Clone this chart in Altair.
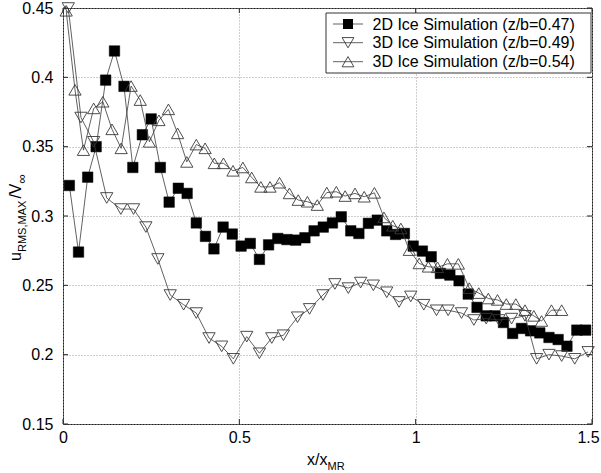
import altair as alt
import pandas as pd

series_names = ["2D Ice Simulation (z/b=0.47)",
                "3D Ice Simulation (z/b=0.49)",
                "3D Ice Simulation (z/b=0.54)"]

sq_x = [0.018, 0.044, 0.07, 0.094, 0.121, 0.146, 0.173, 0.198, 0.225, 0.25, 0.276, 0.301, 0.327, 0.352,
        0.378, 0.404, 0.428, 0.454, 0.48, 0.505, 0.531, 0.557, 0.583, 0.609, 0.635, 0.66, 0.686, 0.712,
        0.738, 0.764, 0.789, 0.816, 0.839, 0.866, 0.891, 0.918, 0.943, 0.968, 0.993, 1.019, 1.044, 1.07,
        1.097, 1.123, 1.149, 1.174, 1.2, 1.225, 1.249, 1.275, 1.30, 1.326, 1.352, 1.378, 1.404, 1.429,
        1.457, 1.482]
sq_y = [0.322, 0.274, 0.328, 0.35, 0.398, 0.419, 0.3935, 0.335, 0.3586, 0.37, 0.335, 0.31, 0.32, 0.3163,
        0.295, 0.2853, 0.2763, 0.292, 0.287, 0.2783, 0.2802, 0.2687, 0.2792, 0.2838, 0.283, 0.2826, 0.2843,
        0.2893, 0.292, 0.295, 0.2994, 0.2893, 0.2874, 0.2947, 0.297, 0.2893, 0.2867, 0.2874, 0.2783, 0.2747,
        0.2706, 0.2586, 0.2574, 0.2533, 0.2437, 0.2341, 0.228, 0.228, 0.2232, 0.2153, 0.2189, 0.2172, 0.2157,
        0.2124, 0.2109, 0.2061, 0.2177, 0.2177]

dn_x = [0.015, 0.051, 0.087, 0.124, 0.164, 0.2, 0.235, 0.269, 0.304, 0.342, 0.378, 0.414, 0.45, 0.483,
        0.521, 0.557, 0.592, 0.625, 0.665, 0.699, 0.737, 0.771, 0.809, 0.844, 0.88, 0.918, 0.953, 0.986,
        1.023, 1.059, 1.092, 1.13, 1.165, 1.2, 1.236, 1.272, 1.31, 1.343, 1.378, 1.414, 1.451, 1.489]
dn_y = [0.45, 0.371, 0.3535, 0.313, 0.305, 0.305, 0.292, 0.269, 0.243, 0.236, 0.23, 0.212, 0.206, 0.197,
        0.213, 0.201, 0.212, 0.214, 0.227, 0.233, 0.243, 0.251, 0.248, 0.252, 0.25, 0.245, 0.238, 0.242,
        0.236, 0.232, 0.232, 0.23, 0.225, 0.226, 0.225, 0.226, 0.228, 0.197, 0.2, 0.199, 0.197, 0.202]

up_x = [0.009, 0.034, 0.058, 0.087, 0.113, 0.139, 0.165, 0.193, 0.219, 0.245, 0.272, 0.299, 0.325, 0.351,
        0.378, 0.403, 0.429, 0.455, 0.482, 0.51, 0.535, 0.561, 0.587, 0.614, 0.642, 0.667, 0.693, 0.721,
        0.748, 0.775, 0.8, 0.828, 0.854, 0.883, 0.91, 0.935, 0.958, 0.982, 1.01, 1.036, 1.062, 1.09,
        1.121, 1.152, 1.179, 1.206, 1.232, 1.257, 1.284, 1.31, 1.335, 1.357, 1.385, 1.414]
up_y = [0.448, 0.391, 0.3475, 0.3776, 0.3824, 0.3625, 0.3488, 0.3937, 0.3836, 0.3535, 0.369, 0.3769, 0.3596,
        0.339, 0.3515, 0.3488, 0.338, 0.338, 0.3326, 0.335, 0.3278, 0.321, 0.321, 0.324, 0.3163, 0.3115,
        0.3103, 0.3079, 0.3169, 0.3175, 0.3144, 0.3163, 0.3139, 0.3167, 0.299, 0.293, 0.291, 0.2754, 0.2658,
        0.2634, 0.263, 0.2655, 0.2655, 0.248, 0.2444, 0.2405, 0.2395, 0.2365, 0.2365, 0.2321, 0.228, 0.2243,
        0.2321, 0.2321]

x_ticks = [0, 0.5, 1, 1.5]
y_ticks = [0.15, 0.2, 0.25, 0.3, 0.35, 0.4, 0.45]

W, H = 529, 416
FONT = "Liberation Sans"
LINE_C = "#3a3a3a"

xs = alt.Scale(domain=[0, 1.5], nice=False, zero=False)
ys = alt.Scale(domain=[0.15, 0.45], nice=False, zero=False)

xaxis = alt.Axis(values=x_ticks, format="~g", title=None, grid=True, gridDash=[1, 2],
                 gridColor="#9a9a9a", ticks=False, tickSize=0, domain=False,
                 labelFont=FONT, labelFontSize=16, labelColor="#000", labelPadding=5,
                 labelFlush=False,
                 labelOffset={"condition": {"test": "datum.value == 1.5", "value": -4}, "value": 0})
yaxis = alt.Axis(values=y_ticks, format="~g", title=None, grid=True, gridDash=[1, 2],
                 gridColor="#9a9a9a", ticks=False, tickSize=0, domain=False,
                 labelFont=FONT, labelFontSize=16, labelColor="#000", labelPadding=10,
                 labelFlush=False)

one = pd.DataFrame({"k": [0]})

specs = [
    (sq_x, sq_y, "square", True, 110, "#000"),
    (dn_x, dn_y, "triangle-down", False, 150, LINE_C),
    (up_x, up_y, "triangle-up", False, 150, LINE_C),
]

layers = []
for (sx, sy, shp, fil, sz, col), name in zip(specs, series_names):
    df = pd.DataFrame({"x": sx, "y": sy, "series": name})
    X = alt.X("x:Q", scale=xs, axis=xaxis)
    Y = alt.Y("y:Q", scale=ys, axis=yaxis)
    layers.append(alt.Chart(df).mark_line(color=LINE_C, strokeWidth=0.8).encode(x=X, y=Y))
    if fil:
        pt = alt.Chart(df).mark_point(shape=shp, filled=True, size=sz, color="#000", opacity=1,
                                      stroke="#000", strokeWidth=0.5)
    else:
        pt = alt.Chart(df).mark_point(shape=shp, filled=False, size=sz, color=col, opacity=1,
                                      strokeWidth=0.9)
    layers.append(pt.encode(x=X, y=Y))

# inside ticks (all four sides)
ytick_df = pd.DataFrame({"y": y_ticks})
xtick_df = pd.DataFrame({"x": x_ticks})
TK = "#222"
layers.append(alt.Chart(ytick_df).mark_rule(color=TK, strokeWidth=1).encode(
    y=alt.Y("y:Q", scale=ys, axis=yaxis), x=alt.value(0), x2=alt.value(5)))
layers.append(alt.Chart(ytick_df).mark_rule(color=TK, strokeWidth=1).encode(
    y=alt.Y("y:Q", scale=ys, axis=yaxis), x=alt.value(W - 5), x2=alt.value(W)))
layers.append(alt.Chart(xtick_df).mark_rule(color=TK, strokeWidth=1).encode(
    x=alt.X("x:Q", scale=xs, axis=xaxis), y=alt.value(H - 5), y2=alt.value(H)))
layers.append(alt.Chart(xtick_df).mark_rule(color=TK, strokeWidth=1).encode(
    x=alt.X("x:Q", scale=xs, axis=xaxis), y=alt.value(0), y2=alt.value(5)))

# legend box
LX0, LX1, LY0, LY1 = 263, 528, 5, 65
layers.append(alt.Chart(one).mark_rect(fill="white", stroke="#333", strokeWidth=1).encode(
    x=alt.value(LX0), x2=alt.value(LX1), y=alt.value(LY0), y2=alt.value(LY1)))
row_y = [16, 34.7, 53.7]
for (sx, sy, shp, fil, sz, col), name, ry in zip(specs, series_names, row_y):
    layers.append(alt.Chart(one).mark_rule(color=LINE_C, strokeWidth=0.8).encode(
        x=alt.value(270), x2=alt.value(300), y=alt.value(ry)))
    if fil:
        pt = alt.Chart(one).mark_point(shape=shp, filled=True, size=100, color="#000", opacity=1)
    else:
        pt = alt.Chart(one).mark_point(shape=shp, filled=False, size=140, color=col, opacity=1,
                                       strokeWidth=0.9)
    layers.append(pt.encode(x=alt.value(285), y=alt.value(ry)))
    layers.append(alt.Chart(one).mark_text(text=name, font=FONT, fontSize=16, align="left",
                                           baseline="middle", color="#000").encode(
        x=alt.value(309.5), y=alt.value(ry + 0.5)))

# x axis title: x/x_MR
layers.append(alt.Chart(one).mark_text(text="x/x", font=FONT, fontSize=16, align="left",
                                       baseline="alphabetic", color="#000").encode(
    x=alt.value(244), y=alt.value(457)))
layers.append(alt.Chart(one).mark_text(text="MR", font=FONT, fontSize=11, align="left",
                                       baseline="alphabetic", color="#000").encode(
    x=alt.value(264.5), y=alt.value(462)))

# y axis title: u_RMS,MAX/V_inf (rotated)
ysegs = [("u", 16, -42, 253), ("RMS,MAX", 11, -37, 244), ("/V", 16, -42, 190.6), ("\u221e", 13, -37, 175.5)]
for txt, fs, px, py in ysegs:
    layers.append(alt.Chart(one).mark_text(text=txt, font=FONT, fontSize=fs, align="left",
                                           baseline="alphabetic", angle=270, color="#000").encode(
        x=alt.value(px), y=alt.value(py)))

chart = alt.layer(*layers).properties(
    width=W, height=H,
    padding={"left": 63, "top": 8, "right": 9, "bottom": 49},
    autosize=alt.AutoSizeParams(type="none"),
    background="white",
).configure_view(stroke="#222", strokeWidth=1)

chart.save("out.html", embed_options={"renderer": "svg", "actions": False})
